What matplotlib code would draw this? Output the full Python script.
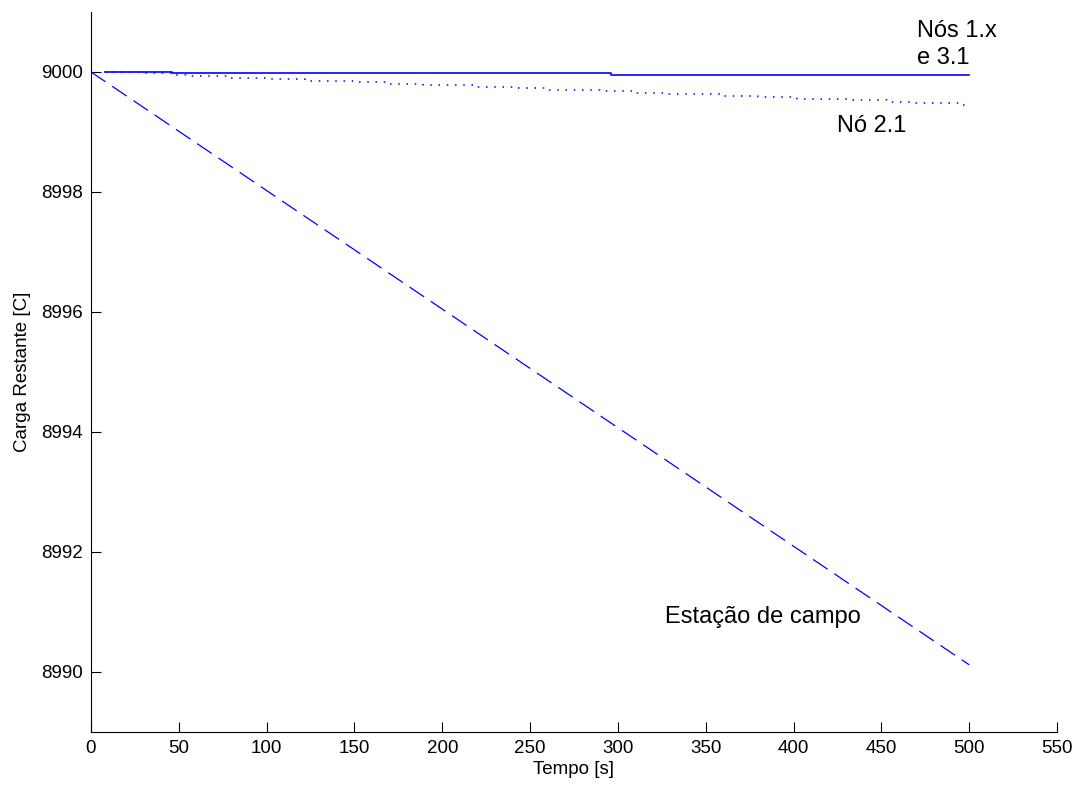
import matplotlib
matplotlib.use("Agg")
import matplotlib.pyplot as plt

plt.rcParams['font.family'] = ['Liberation Sans', 'DejaVu Sans']

# carga restante [C] ao longo do tempo [s]
t_nos1x = [8, 46, 296, 500]
q_nos1x = [9000.0, 8999.977, 8999.95, 8999.95]

t_no21 = [8, 29, 46, 54, 80, 101, 122, 152, 168, 189, 219, 240,
          261, 290, 311, 329, 359, 380, 402, 431, 453, 469, 496, 500]
q_no21 = [9000.000, 8999.975, 8999.950, 8999.925, 8999.900, 8999.875,
          8999.850, 8999.825, 8999.800, 8999.775, 8999.750, 8999.725,
          8999.700, 8999.675, 8999.650, 8999.625, 8999.600, 8999.575,
          8999.550, 8999.525, 8999.500, 8999.475, 8999.450, 8999.450]

t_estacao = [0, 500]
q_estacao = [9000.0, 8990.12]

x_ticks = [0, 50, 100, 150, 200, 250, 300, 350, 400, 450, 500, 550]
y_ticks = [8990, 8992, 8994, 8996, 8998, 9000]

fig = plt.figure(figsize=(10.78, 7.87), dpi=100)
ax = fig.add_axes([0.0844, 0.0699, 0.8961, 0.9149])

azul = (0, 0, 1)
ax.plot(t_nos1x, q_nos1x, color=azul, lw=1.2, drawstyle='steps-post')
ax.plot(t_no21, q_no21, color=azul, lw=1.1, linestyle=(0, (1, 4.4)),
        drawstyle='steps-post')
ax.plot(t_estacao, q_estacao, color=azul, lw=0.9, linestyle=(0, (14, 6.5)))

fs = 17
ax.text(470.4, 9000.58, 'Nós 1.x', fontsize=fs, va='baseline')
ax.text(470.4, 9000.13, 'e 3.1', fontsize=fs, va='baseline')
ax.text(424.9, 8999.0, 'Nó 2.1', fontsize=fs, va='baseline')
ax.text(326.9, 8990.81, 'Estação de campo', fontsize=fs, va='baseline')

ax.set_xlim(0, 550)
ax.set_ylim(8989, 9001)
ax.set_xticks(x_ticks)
ax.set_yticks(y_ticks)
ax.tick_params(direction='in', length=7.5, width=0.8, labelsize=13.5, pad=6)

for s in ['top', 'right']:
    ax.spines[s].set_visible(False)
for s in ['left', 'bottom']:
    ax.spines[s].set_linewidth(0.8)

ax.set_xlabel('Tempo [s]', fontsize=13.5, labelpad=3)
ax.set_ylabel('Carga Restante [C]', fontsize=13.5, labelpad=7)

fig.savefig('out.png', dpi=100)
